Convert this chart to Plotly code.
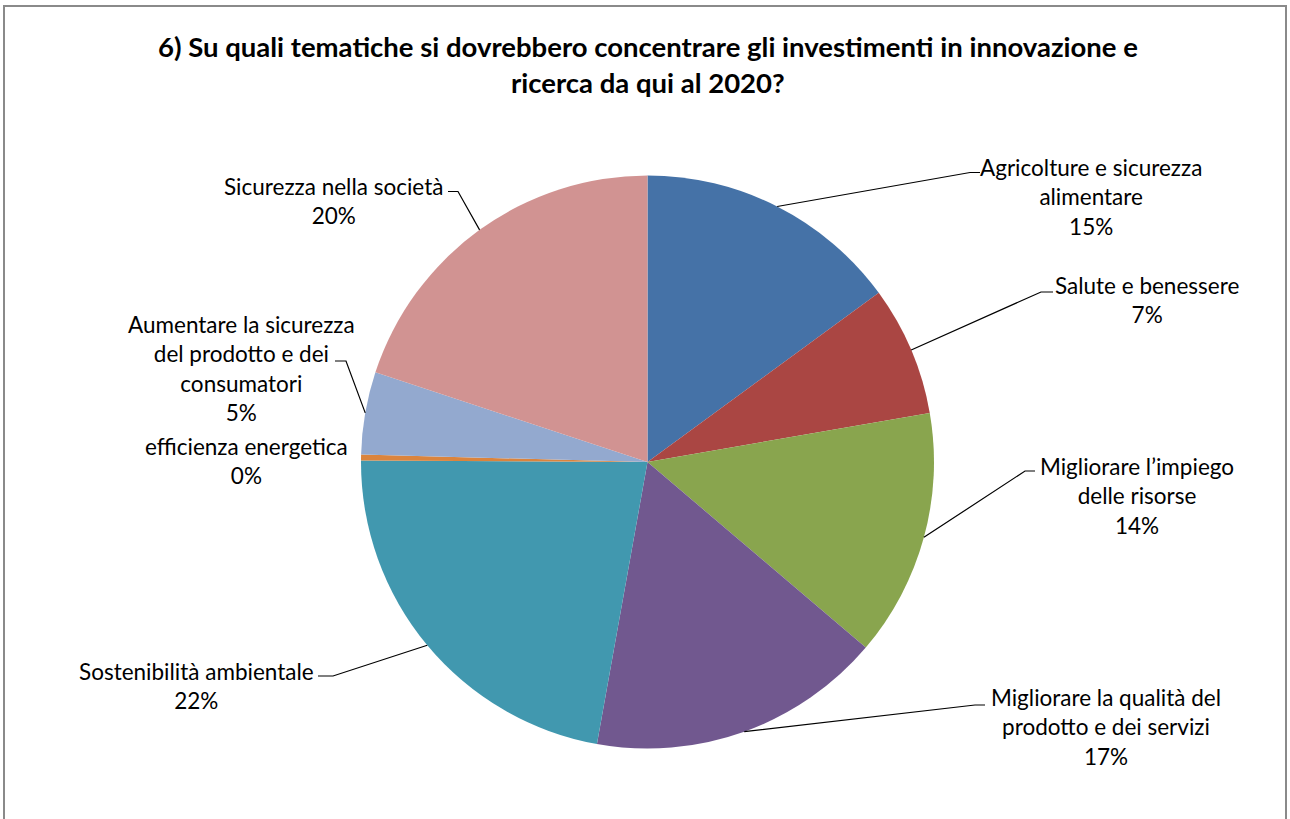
import math
import plotly.graph_objects as go

# ---- data -------------------------------------------------------------
categories = [
    "Agricolture e sicurezza alimentare",
    "Salute e benessere",
    "Migliorare l’impiego delle risorse",
    "Migliorare la qualità del prodotto e dei servizi",
    "Sostenibilità ambientale",
    "efficienza energetica",
    "Aumentare la sicurezza del prodotto e dei consumatori",
    "Sicurezza nella società",
]
# category names wrapped the way they are printed next to the pie
wrapped_names = [
    "Agricolture e sicurezza<br>alimentare",
    "Salute e benessere",
    "Migliorare l’impiego<br>delle risorse",
    "Migliorare la qualità del<br>prodotto e dei servizi",
    "Sostenibilità ambientale",
    "efficienza energetica",
    "Aumentare la sicurezza<br>del prodotto e dei<br>consumatori",
    "Sicurezza nella società",
]
responses = [45, 22, 42, 50, 67, 1, 14, 60]

title_lines = [
    "6) Su quali tematiche si dovrebbero concentrare gli investimenti in innovazione e",
    "ricerca da qui al 2020?",
]

# ---- style ------------------------------------------------------------
colors = ["#4572A7", "#AA4643", "#89A54E", "#71588F",
          "#4198AF", "#DB843D", "#93A9CF", "#D19392"]

W, H = 1290, 819
CX, CY, R = 647.5, 462.0, 286.5          # pie centre / radius in px
LINE_H = 29.3                             # label line spacing in px
LABEL_FONT = dict(family="Lato, Calibri, sans-serif", size=22.5, color="#000000")
TITLE_FONT = dict(family="Lato, Calibri, sans-serif", size=27.5, color="#000000")

# label placement: (text centre x, first-line centre y) in px
label_pos = [
    (1091, 168), (1147, 285), (1137, 467), (1106, 698),
    (196, 671), (246, 446), (241, 325), (333, 186),
]
# leader elbow: (elbow x, elbow y, end x of the short horizontal tick)
leader_elbow = [
    (970, 172.5, 980), (1041, 292, 1053), (1025, 471, 1035), (975, 705, 985),
    (333, 676, 318), None, (346, 361, 335), (458, 191.5, 448),
]


def px(x):
    return x / W


def py(y):
    return 1 - y / H


total = sum(responses)
percents = [round(100 * v / total) for v in responses]

fig = go.Figure(
    go.Pie(
        labels=categories,
        values=responses,
        sort=False,
        direction="clockwise",
        rotation=0,
        marker=dict(colors=colors, line=dict(width=0)),
        textinfo="none",
        hoverinfo="label+percent",
        showlegend=False,
        domain=dict(x=[px(CX - R), px(CX + R)], y=[py(CY + R), py(CY - R)]),
    )
)

shapes = []
annotations = []

# chart frame
shapes.append(dict(type="rect", xref="paper", yref="paper",
                   x0=px(4), x1=px(1286), y0=py(835), y1=py(6),
                   line=dict(color="#8a8a8a", width=2), fillcolor="rgba(0,0,0,0)"))

cum = 0.0
for i, v in enumerate(responses):
    mid = 2 * math.pi * (cum + v / 2) / total
    cum += v
    sx = CX + R * math.sin(mid)
    sy = CY - R * math.cos(mid)
    el = leader_elbow[i]
    if el is not None:
        ex, ey, tx = el
        shapes.append(dict(type="path", xref="paper", yref="paper",
                           path=f"M {px(sx)},{py(sy)} L {px(ex)},{py(ey)} L {px(tx)},{py(ey)}",
                           line=dict(color="#000000", width=1.2)))
    text = f"{wrapped_names[i]}<br>{percents[i]}%"
    n_lines = text.count("<br>") + 1
    lx, ly = label_pos[i]
    annotations.append(dict(
        xref="paper", yref="paper", x=px(lx), y=py(ly + (n_lines - 1) * LINE_H / 2),
        xanchor="center", yanchor="middle", align="center",
        text=text, showarrow=False, font=LABEL_FONT,
    ))

for k, (line, y) in enumerate(zip(title_lines, [46, 83])):
    annotations.append(dict(
        xref="paper", yref="paper", x=px(648), y=py(y),
        xanchor="center", yanchor="middle",
        text=f"<b>{line}</b>", showarrow=False, font=TITLE_FONT,
    ))

fig.update_layout(
    width=W, height=H,
    margin=dict(l=0, r=0, t=0, b=0),
    paper_bgcolor="#FFFFFF",
    plot_bgcolor="#FFFFFF",
    shapes=shapes,
    annotations=annotations,
)

fig.write_html("out.html")
